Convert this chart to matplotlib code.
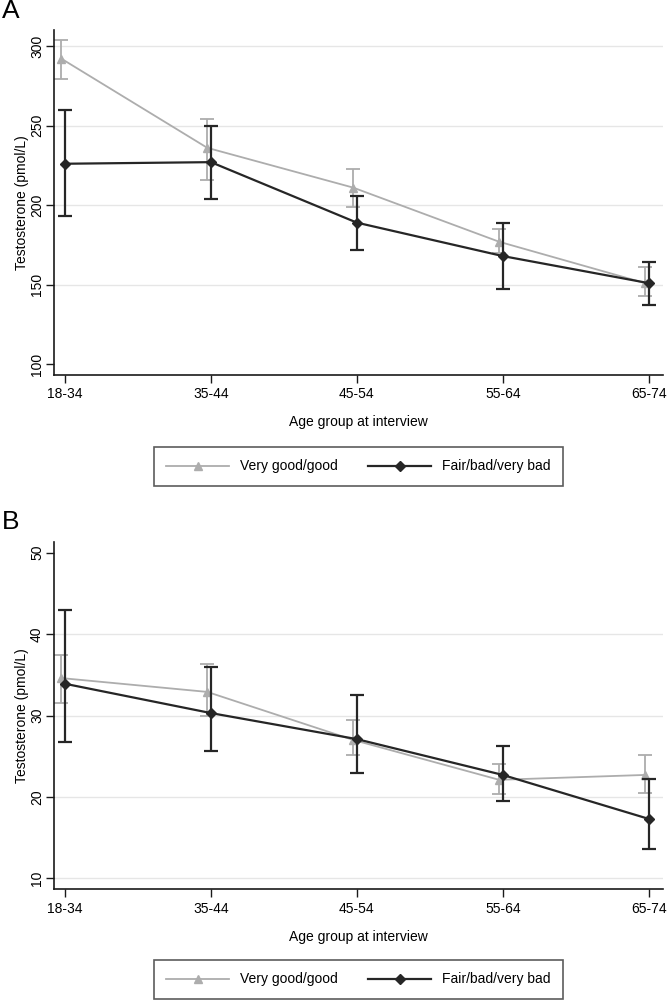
import matplotlib.pyplot as plt
import numpy as np

plt.rcParams['font.family'] = ['Liberation Sans', 'DejaVu Sans']

ages = ['18-34', '35-44', '45-54', '55-64', '65-74']

# Panel A - testosterone (pmol/L)
a_good = [292, 236, 211, 177, 151]
a_good_lo = [279, 216, 199, 170, 143]
a_good_hi = [304, 254, 223, 185, 161]
a_bad = [226, 227, 189, 168, 151]
a_bad_lo = [193, 204, 172, 147, 137]
a_bad_hi = [260, 250, 206, 189, 164]

# Panel B
b_good = [34.6, 32.9, 27.0, 22.1, 22.7]
b_good_lo = [31.5, 30.0, 25.1, 20.3, 20.5]
b_good_hi = [37.4, 36.3, 29.4, 24.1, 25.1]
b_bad = [33.9, 30.3, 27.1, 22.7, 17.3]
b_bad_lo = [26.8, 25.6, 22.9, 19.5, 13.6]
b_bad_hi = [43.0, 35.9, 32.5, 26.3, 22.2]

GRAY = '#adadad'
DARK = '#262626'
FS = 10

fig = plt.figure(figsize=(6.67, 10.01), dpi=100)


def draw_panel(ax, good, glo, ghi, bad, blo, bhi, yticks, grid, ylim):
    x = np.arange(len(ages))
    xg = x - 0.025
    for yv in grid:
        ax.axhline(yv, color='#e6e6e6', lw=1, zorder=0)
    g = np.array(good)
    b = np.array(bad)
    ax.errorbar(xg, g, yerr=[g - np.array(glo), np.array(ghi) - g], color=GRAY,
                lw=1.3, marker='^', ms=5.5, capsize=5, capthick=1.3, elinewidth=1.3,
                label='Very good/good', zorder=2)
    ax.errorbar(x, b, yerr=[b - np.array(blo), np.array(bhi) - b], color=DARK,
                lw=1.6, marker='D', ms=5.5, capsize=5, capthick=1.6, elinewidth=1.6,
                label='Fair/bad/very bad', zorder=3)
    ax.set_xlim(-0.072, 4.098)
    ax.set_ylim(*ylim)
    ax.set_xticks(x)
    ax.set_xticklabels(ages, fontsize=FS)
    ax.set_yticks(yticks)
    ax.set_yticklabels([str(t) for t in yticks], fontsize=FS, rotation=90, va='center')
    ax.spines['top'].set_visible(False)
    ax.spines['right'].set_visible(False)
    for s in ('left', 'bottom'):
        ax.spines[s].set_linewidth(1.2)
        ax.spines[s].set_color('#1a1a1a')
    ax.tick_params(direction='out', length=5.5, width=1, color='#1a1a1a')
    ax.tick_params(axis='y', pad=2)
    ax.set_xlabel('Age group at interview', fontsize=FS, labelpad=10)
    ax.set_ylabel('Testosterone (pmol/L)', fontsize=FS, labelpad=0.5)


axA = fig.add_axes([0.0817, 0.6254, 0.9123, 0.3446])
draw_panel(axA, a_good, a_good_lo, a_good_hi, a_bad, a_bad_lo, a_bad_hi,
           [100, 150, 200, 250, 300], [150, 200, 250, 300], (93.3, 310))

axB = fig.add_axes([0.0817, 0.1116, 0.9123, 0.3472])
draw_panel(axB, b_good, b_good_lo, b_good_hi, b_bad, b_bad_lo, b_bad_hi,
           [10, 20, 30, 40, 50], [10, 20, 30, 40], (8.65, 51.35))

for ax, yc in ((axA, 0.534), (axB, 0.0215)):
    h, l = ax.get_legend_handles_labels()
    h = [hh[0] for hh in h]
    leg = fig.legend(h, l, loc='center', bbox_to_anchor=(0.5375, yc), ncol=2,
                     fontsize=FS, frameon=True, fancybox=False, handlelength=4.5,
                     columnspacing=2.2, borderpad=0.9, handletextpad=0.8,
                     borderaxespad=0)
    leg.get_frame().set_edgecolor('#333333')
    leg.get_frame().set_linewidth(1.2)

fig.text(0.003, 0.989, 'A', fontsize=19, va='center', ha='left')
fig.text(0.003, 0.479, 'B', fontsize=19, va='center', ha='left')

fig.savefig('out.png', dpi=100)
